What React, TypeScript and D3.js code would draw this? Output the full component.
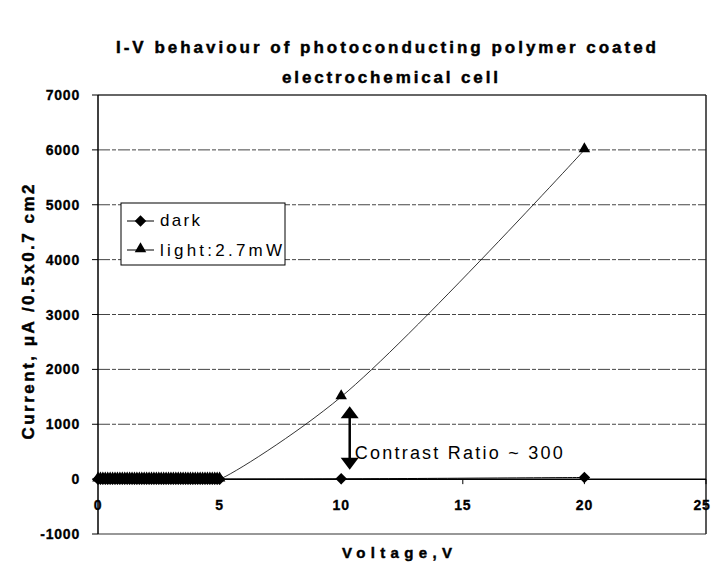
import React from "react";
import * as d3 from "d3";

// ---- data ----
const lowVoltage = [
  0.0, 0.1, 0.2, 0.3, 0.4, 0.5, 0.6, 0.7, 0.8, 0.9,
  1.0, 1.1, 1.2, 1.3, 1.4, 1.5, 1.6, 1.7, 1.8, 1.9,
  2.0, 2.1, 2.2, 2.3, 2.4, 2.5, 2.6, 2.7, 2.8, 2.9,
  3.0, 3.1, 3.2, 3.3, 3.4, 3.5, 3.6, 3.7, 3.8, 3.9,
  4.0, 4.1, 4.2, 4.3, 4.4, 4.5, 4.6, 4.7, 4.8, 4.9, 5.0,
];
const highVoltage = [10, 20];
const darkLow = [
  0, 0, 0, 0, 0, 0, 0, 0, 0, 0,
  0, 0, 0, 0, 0, 0, 0, 0, 0, 0,
  0, 0, 0, 0, 0, 0, 0, 0, 0, 0,
  0, 0, 0, 0, 0, 0, 0, 0, 0, 0,
  0, 0, 0, 0, 0, 0, 0, 0, 0, 0, 0,
];
const darkHigh = [5, 30];
const lightLow = [
  0, 0, 0, 0, 0, 0, 0, 0, 0, 0,
  0, 0, 0, 0, 0, 0, 0, 0, 0, 0,
  0, 0, 0, 0, 0, 0, 0, 0, 0, 0,
  0, 0, 0, 0, 0, 0, 0, 0, 0, 0,
  0, 0, 0, 0, 0, 0, 0, 0, 0, 0, 0,
];
const lightHigh = [1500, 6000];

const xTicks = [0, 5, 10, 15, 20, 25];
const yTicks = [-1000, 0, 1000, 2000, 3000, 4000, 5000, 6000, 7000];
const seriesNames = ["dark", "light:2.7mW"];
const titleLines = ["I-V behaviour of photoconducting polymer coated", "electrochemical cell"];
const xLabel = "Voltage,V";
const yLabel = "Current, \u03bcA /0.5x0.7 cm2";
const annotation = "Contrast Ratio ~ 300";
const arrowX = 10.35;
const arrowFrom = 1330;
const arrowTo = 170;

const FONT = "'Liberation Sans', Arial, Helvetica, sans-serif";

export default function App() {
  const W = 712;
  const H = 566;
  const x = d3.scaleLinear().domain([0, 25]).range([98, 706]);
  const y = d3.scaleLinear().domain([-1000, 7000]).range([534, 95]);

  const darkV = [...lowVoltage, ...highVoltage];
  const darkI = [...darkLow, ...darkHigh];
  const lightV = [...lowVoltage, ...highVoltage];
  const lightI = [...lightLow, ...lightHigh];
  const darkPts: [number, number][] = darkV.map((v, i) => [v, darkI[i]]);
  const lightPts: [number, number][] = lightV.map((v, i) => [v, lightI[i]]);

  const line = d3
    .line<[number, number]>()
    .x((d) => x(d[0]))
    .y((d) => y(d[1]))
    .curve(d3.curveCatmullRom.alpha(0.5));

  const diamond = d3.symbol().type(d3.symbolDiamond2).size(85)();
  const triangle = d3.symbol().type(d3.symbolTriangle2).size(95)();

  const ax = x(arrowX);
  const ay1 = y(arrowFrom);
  const ay2 = y(arrowTo);
  const boldStroke = { stroke: "#000", strokeWidth: 0.45 };

  return (
    <svg
      width={W}
      height={H}
      style={{ position: "absolute", left: 0, top: 0, background: "#fff" }}
      fontFamily={FONT}
    >
      <rect x={0} y={0} width={W} height={H} fill="#fff" />
      {/* title */}
      <text x={386} y={53} textAnchor="middle" fontSize={17} fontWeight="bold" textLength={540} lengthAdjust="spacing" {...boldStroke}>
        {titleLines[0]}
      </text>
      <text x={390} y={83} textAnchor="middle" fontSize={17} fontWeight="bold" textLength={216} lengthAdjust="spacing" {...boldStroke}>
        {titleLines[1]}
      </text>

      {/* gridlines */}
      {yTicks
        .filter((t) => t !== 0 && t !== -1000 && t !== 7000)
        .map((t) => (
          <line key={t} x1={x(0)} x2={x(25)} y1={y(t)} y2={y(t)} stroke="#444" strokeWidth={1} strokeDasharray="12,2,4,2" />
        ))}
      {/* plot border */}
      <line x1={x(0)} x2={x(25)} y1={y(7000)} y2={y(7000)} stroke="#333" strokeWidth={1.5} />
      <line x1={x(25)} x2={x(25)} y1={y(7000)} y2={y(-1000)} stroke="#222" strokeWidth={1.5} />
      <line x1={x(0)} x2={x(25)} y1={y(-1000)} y2={y(-1000)} stroke="#333" strokeWidth={1.2} />
      {/* y axis */}
      <line x1={x(0)} x2={x(0)} y1={y(7000)} y2={y(-1000)} stroke="#000" strokeWidth={1.5} />
      {yTicks.map((t) => (
        <g key={t}>
          <line x1={x(0) - 6} x2={x(0)} y1={y(t)} y2={y(t)} stroke="#000" strokeWidth={1} />
          <text x={x(0) - 18} y={y(t) + 5} textAnchor="end" fontSize={14} fontWeight="bold" letterSpacing={0.8} {...boldStroke} strokeWidth={0.3}>
            {t}
          </text>
        </g>
      ))}
      {/* x axis at zero */}
      <line x1={x(0)} x2={x(25)} y1={y(0)} y2={y(0)} stroke="#000" strokeWidth={1.5} />
      {xTicks.map((t) => (
        <g key={t}>
          <line x1={x(t)} x2={x(t)} y1={y(0)} y2={y(0) + 5} stroke="#000" strokeWidth={1} />
          <text
            x={t === 25 ? x(t) - 4 : x(t)}
            y={y(0) + 31}
            textAnchor="middle"
            fontSize={14}
            fontWeight="bold"
            letterSpacing={0.8}
            {...boldStroke}
            strokeWidth={0.3}
          >
            {t}
          </text>
        </g>
      ))}

      {/* series lines */}
      <path d={line(darkPts) || ""} fill="none" stroke="#000" strokeWidth={1} />
      <path d={line(lightPts) || ""} fill="none" stroke="#000" strokeWidth={0.8} />
      {/* markers */}
      {darkPts.map((p, i) => (
        <path key={"d" + i} d={diamond || ""} transform={`translate(${x(p[0])},${y(p[1])})`} fill="#000" />
      ))}
      {lightPts.map((p, i) => (
        <path key={"l" + i} d={triangle || ""} transform={`translate(${x(p[0])},${y(p[1]) - 1})`} fill="#000" />
      ))}

      {/* contrast annotation */}
      <line x1={ax} x2={ax} y1={ay1 + 10} y2={ay2 - 10} stroke="#000" strokeWidth={2.5} />
      <path d={`M${ax},${ay1} L${ax - 9},${ay1 + 12} L${ax + 9},${ay1 + 12} Z`} fill="#000" />
      <path d={`M${ax},${ay2} L${ax - 9},${ay2 - 12} L${ax + 9},${ay2 - 12} Z`} fill="#000" />
      <text x={ax + 5} y={y(370)} fontSize={18} textLength={208} lengthAdjust="spacing">
        {annotation}
      </text>

      {/* legend */}
      <rect x={121} y={203} width={164} height={62} fill="#fff" stroke="#000" strokeWidth={1} />
      <line x1={127} x2={154} y1={221} y2={221} stroke="#000" strokeWidth={1} />
      <path d={diamond || ""} transform="translate(140.5,221)" fill="#000" />
      <text x={160} y={226} fontSize={17} textLength={40} lengthAdjust="spacing">
        {seriesNames[0]}
      </text>
      <line x1={127} x2={154} y1={250} y2={250} stroke="#000" strokeWidth={1} />
      <path d={triangle || ""} transform="translate(140.5,249)" fill="#000" />
      <text x={160} y={256} fontSize={17} textLength={122} lengthAdjust="spacing">
        {seriesNames[1]}
      </text>

      {/* axis titles */}
      <text x={397} y={558} textAnchor="middle" fontSize={15} fontWeight="bold" textLength={110} lengthAdjust="spacing" {...boldStroke}>
        {xLabel}
      </text>
      <text
        transform="translate(34,312) rotate(-90)"
        textAnchor="middle"
        fontSize={17}
        fontWeight="bold"
        textLength={255}
        lengthAdjust="spacing"
        {...boldStroke}
      >
        {yLabel}
      </text>
    </svg>
  );
}
